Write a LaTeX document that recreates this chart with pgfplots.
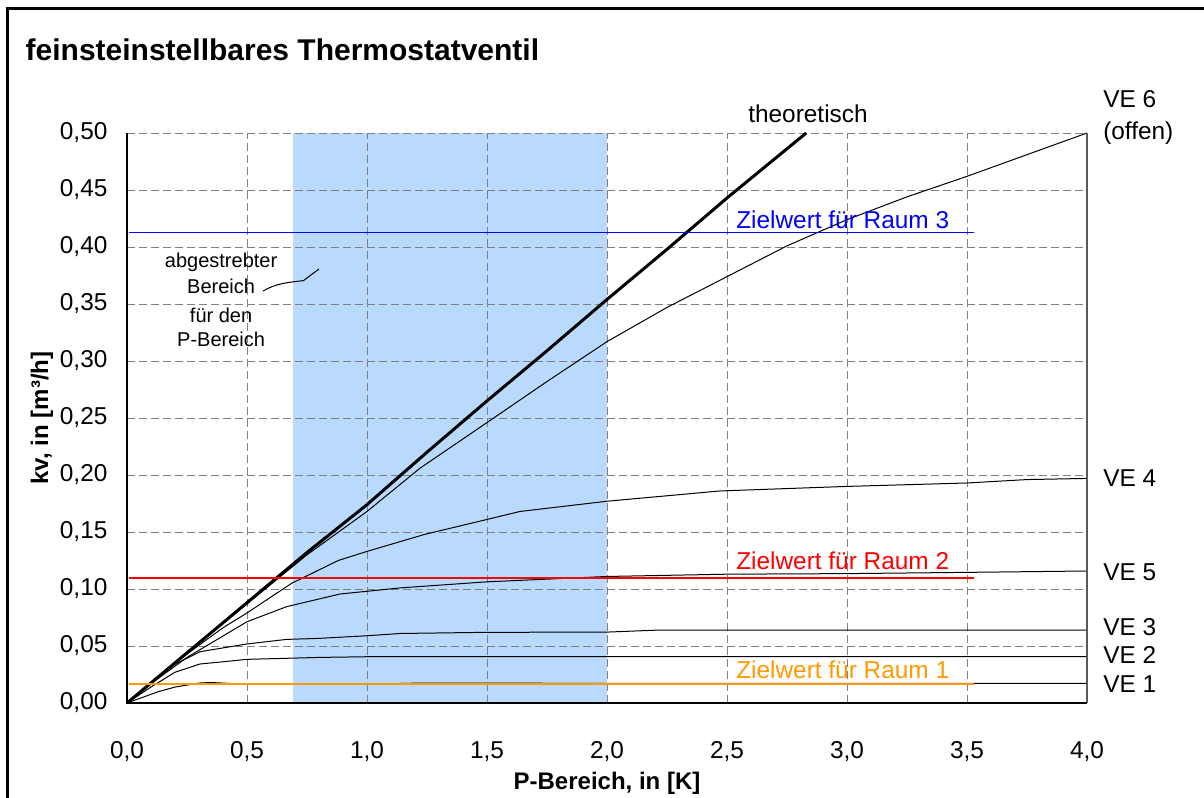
\documentclass[border=0pt]{standalone}
\usepackage{fontspec}
\setmainfont{Liberation Sans}
\usepackage{pgfplots}
\pgfplotsset{compat=1.18}

\definecolor{shade}{RGB}{185,218,252}
\definecolor{zielorange}{RGB}{255,153,0}
\definecolor{gridgray}{RGB}{128,128,128}
\newcommand{\lbl}{\fontsize{18.3}{21}\selectfont}

\begin{document}
\begin{tikzpicture}
% outer frame (only left and top edges are visible)
\draw[line width=1.8pt] (5.6pt,-800pt) -- (5.6pt,-6.4pt) -- (1000pt,-6.4pt);
\node[anchor=base west, font=\fontsize{22.5}{27}\selectfont\bfseries]
  at (15.75pt,-45pt) {feinsteinstellbares Thermostatventil};

\begin{axis}[
  at={(95.25pt,-527.25pt)}, anchor=south west,
  scale only axis, width=720pt, height=427.5pt,
  xmin=0, xmax=4, ymin=0, ymax=0.5,
  xtick={0,0.5,1,1.5,2,2.5,3,3.5,4},
  ytick={0,0.05,0.1,0.15,0.2,0.25,0.3,0.35,0.4,0.45,0.5},
  major tick length=0pt,
  axis line style={draw=none},
  grid=major,
  grid style={gridgray, line width=0.75pt, dash pattern=on 6pt off 3pt},
  set layers, clip=false,
  xticklabel style={font=\lbl, anchor=north, inner sep=0pt, yshift=-28.5pt,
    /pgf/number format/.cd, fixed, fixed zerofill, precision=1, use comma, assume math mode=true},
  yticklabel style={font=\lbl, anchor=east, inner sep=0pt, xshift=-14.5pt,
    /pgf/number format/.cd, fixed, fixed zerofill, precision=2, use comma, assume math mode=true},
  xlabel={P-Bereich, in [K]},
  ylabel={kv, in [m³/h]},
  xlabel style={at={(axis description cs:0.5,-0.1509)}, anchor=base, font=\fontsize{18}{21}\selectfont\bfseries},
  ylabel style={at={(axis description cs:-0.0885,0.5)}, anchor=center, font=\fontsize{18}{21}\selectfont\bfseries},
]

% angestrebter P-Bereich
\addplot[draw=none, fill=shade, on layer=axis background]
  coordinates {(0.69,0.5) (2.0,0.5)} \closedcycle;

% VE 1
\addplot[black, line width=0.75pt] coordinates {
  (0,0) (0.13,0.0099) (0.2,0.014) (0.3,0.0175) (0.35,0.018) (0.5,0.0164)
  (1.0,0.0165) (1.2,0.0174) (2.0,0.0173) (4.0,0.0173)};
% VE 2
\addplot[black, line width=0.75pt] coordinates {
  (0,0) (0.1,0.014) (0.2,0.027) (0.304,0.0342) (0.5,0.0383) (0.804,0.040)
  (1.0,0.0406) (4.0,0.0406)};
% VE 3
\addplot[black, line width=0.75pt] coordinates {
  (0,0) (0.1,0.018) (0.2,0.034) (0.304,0.045) (0.5,0.0518) (0.665,0.0558)
  (0.8,0.0567) (1.0,0.059) (1.14,0.061) (1.5,0.062) (2.0,0.0622) (2.217,0.064) (4.0,0.064)};
% VE 5
\addplot[black, line width=0.75pt] coordinates {
  (0,0) (0.1,0.017) (0.25,0.040) (0.5,0.0713) (0.665,0.0845) (0.887,0.0956)
  (1.14,0.101) (1.5,0.1063) (2.0,0.111) (2.5,0.113) (3.0,0.1135) (3.5,0.1146) (4.0,0.1158)};
% VE 4
\addplot[black, line width=0.75pt] coordinates {
  (0,0) (0.1,0.018) (0.25,0.043) (0.4,0.066) (0.5,0.079) (0.6,0.093)
  (0.686,0.105) (0.88,0.125) (1.0,0.133) (1.242,0.148) (1.5,0.161) (1.637,0.168)
  (2.0,0.177) (2.47,0.186) (3.0,0.19) (3.5,0.193) (3.75,0.196) (4.0,0.197)};
% VE 6 (offen)
\addplot[black, line width=0.75pt] coordinates {
  (0,0) (0.25,0.044) (0.5,0.087) (0.75,0.13) (1.0,0.168) (1.221,0.206)
  (1.5,0.246) (1.75,0.282) (2.0,0.317) (2.25,0.347) (2.5,0.374) (2.75,0.401)
  (3.0,0.424) (3.25,0.444) (3.5,0.462) (3.75,0.481) (4.0,0.5)};
% theoretisch
\addplot[black, line width=2.25pt] coordinates {
  (0,0) (0.25,0.044) (0.5,0.088) (0.75,0.132) (1.0,0.174) (1.25,0.220)
  (1.5,0.265) (1.75,0.309) (2.0,0.354) (2.25,0.398) (2.5,0.443) (2.83,0.5)};

% Zielwerte
\addplot[blue, line width=1.1pt] coordinates {(0.01,0.4125) (3.53,0.4125)};
\addplot[red, line width=1.1pt] coordinates {(0.01,0.1096) (3.53,0.1096)};
\addplot[zielorange, line width=1.1pt] coordinates {(0.01,0.0167) (3.53,0.0167)};

% plot area edges
\draw[black, line width=1.5pt] (rel axis cs:0,1) -- (rel axis cs:0,0) -- (rel axis cs:1,0);
\draw[black!65, line width=1.1pt] (rel axis cs:1,0) -- (rel axis cs:1,1);

% labels
\node[font=\lbl, text=blue, anchor=base west, inner sep=0pt] at (axis cs:2.5375,0.4158) {Zielwert für Raum 3};
\node[font=\lbl, text=red, anchor=base west, inner sep=0pt] at (axis cs:2.5375,0.1167) {Zielwert für Raum 2};
\node[font=\lbl, text=zielorange, anchor=base west, inner sep=0pt] at (axis cs:2.5375,0.0213) {Zielwert für Raum 1};

\node[font=\lbl, anchor=base, inner sep=0pt] at (axis cs:2.8375,0.5096) {theoretisch};
\node[font=\lbl, anchor=base west, inner sep=0pt] at (axis cs:4.0667,0.522) {VE 6};
\node[font=\lbl, anchor=base west, inner sep=0pt] at (axis cs:4.0667,0.4939) {(offen)};
\node[font=\lbl, anchor=west, inner sep=0pt] at (axis cs:4.0667,0.1974) {VE 4};
\node[font=\lbl, anchor=west, inner sep=0pt] at (axis cs:4.0667,0.115) {VE 5};
\node[font=\lbl, anchor=west, inner sep=0pt] at (axis cs:4.0667,0.0667) {VE 3};
\node[font=\lbl, anchor=west, inner sep=0pt] at (axis cs:4.0667,0.0421) {VE 2};
\node[font=\lbl, anchor=west, inner sep=0pt] at (axis cs:4.0667,0.0167) {VE 1};

% annotation
\node[font=\fontsize{15}{18}\selectfont, anchor=base, inner sep=0pt] at (axis cs:0.392,0.3816) {abgestrebter};
\node[font=\fontsize{15}{18}\selectfont, anchor=base, inner sep=0pt] at (axis cs:0.392,0.3588) {Bereich};
\node[font=\fontsize{15}{18}\selectfont, anchor=base, inner sep=0pt] at (axis cs:0.392,0.3342) {für den};
\node[font=\fontsize{15}{18}\selectfont, anchor=base, inner sep=0pt] at (axis cs:0.392,0.3123) {P-Bereich};
\draw[black, line width=0.75pt] (axis cs:0.5667,0.3614)
  .. controls (axis cs:0.62,0.368) and (axis cs:0.67,0.369) .. (axis cs:0.735,0.3705)
  -- (axis cs:0.8,0.3807);
\end{axis}
\pgfresetboundingbox
\useasboundingbox (0,0) rectangle (903pt,-597.75pt);
\end{tikzpicture}
\end{document}
